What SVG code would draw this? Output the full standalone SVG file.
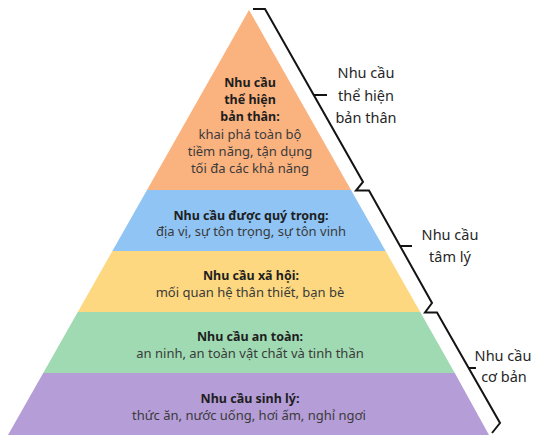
<svg xmlns="http://www.w3.org/2000/svg" width="536" height="439" viewBox="0 0 536 439">
<style>
.b{font-family:"Noto Sans","Open Sans",sans-serif;font-size:12.5px;font-weight:bold;fill:#1e1e1e;text-anchor:middle}
.r{font-family:"Noto Sans","Open Sans",sans-serif;font-size:13px;fill:#3a3a3a;text-anchor:middle}
.l{font-family:"Noto Sans","Open Sans",sans-serif;font-size:14.5px;fill:#262626;text-anchor:middle}
.br{fill:none;stroke:#141414;stroke-width:2;stroke-linejoin:miter}
</style>
<rect width="536" height="439" fill="#ffffff"/>
<g id="level5">
<polygon points="249,10 351,190 147,190" fill="#FAB27F"/>
<text class="b" x="250" y="87">Nhu cầu</text>
<text class="b" x="250" y="104">thể hiện</text>
<text class="b" x="250" y="121">bản thân:</text>
<text class="r" x="250" y="139">khai phá toàn bộ</text>
<text class="r" x="250" y="156">tiềm năng, tận dụng</text>
<text class="r" x="250" y="172.5">tối đa các khả năng</text>
</g>
<g id="level4">
<polygon points="147,190 351,190 385.6,251 112.4,251" fill="#8FC4F5"/>
<text class="b" x="251" y="219.5">Nhu cầu được quý trọng:</text>
<text class="r" x="251" y="236">địa vị, sự tôn trọng, sự tôn vinh</text>
</g>
<g id="level3">
<polygon points="112.4,251 385.6,251 420.2,312 77.8,312" fill="#FDD880"/>
<text class="b" x="251" y="280">Nhu cầu xã hội:</text>
<text class="r" x="250" y="296.5">mối quan hệ thân thiết, bạn bè</text>
</g>
<g id="level2">
<polygon points="77.8,312 420.2,312 454.8,373 43.2,373" fill="#A0DAB2"/>
<text class="b" x="250" y="341">Nhu cầu an toàn:</text>
<text class="r" x="250" y="358">an ninh, an toàn vật chất và tinh thần</text>
</g>
<g id="level1">
<polygon points="43.2,373 454.8,373 489,435 8,435" fill="#B59DD8"/>
<text class="b" x="250" y="403">Nhu cầu sinh lý:</text>
<text class="r" x="249" y="420">thức ăn, nước uống, hơi ấm, nghỉ ngơi</text>
</g>
<g id="connectors">
<path class="br" d="M253,9 L265,9 L363,182 L356,190.5 L369,190.5 L432,303 L425,312.5 L437,312.5 L500,423 L492,433"/>
<path class="br" d="M314,95 L327,95"/>
<path class="br" d="M400,246 L412,246"/>
<path class="br" d="M468.6,368 L476,368"/>
</g>
<g id="label-top">
<text class="l" x="366" y="78">Nhu cầu</text>
<text class="l" x="366" y="100.5">thể hiện</text>
<text class="l" x="366" y="122.5">bản thân</text>
</g>
<g id="label-mid">
<text class="l" x="450" y="239.5">Nhu cầu</text>
<text class="l" x="450" y="261.5">tâm lý</text>
</g>
<g id="label-bottom">
<text class="l" x="503" y="360.5">Nhu cầu</text>
<text class="l" x="504" y="381.5">cơ bản</text>
</g>
</svg>
